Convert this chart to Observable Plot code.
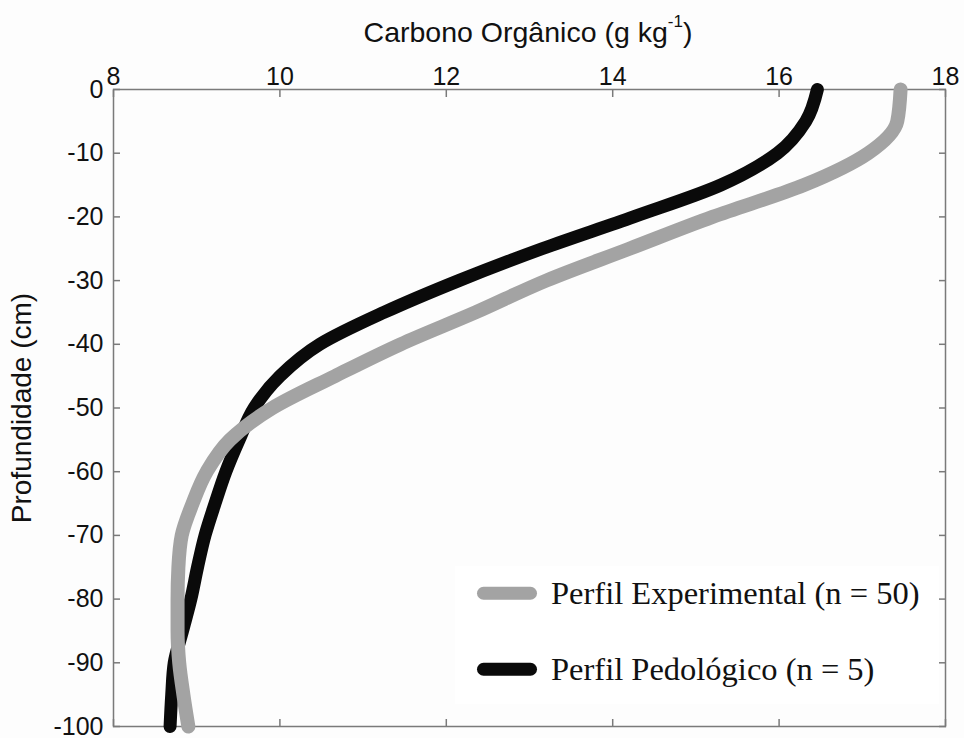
<!DOCTYPE html>
<html>
<head>
<meta charset="utf-8">
<script src="https://cdn.jsdelivr.net/npm/d3@7"></script>
<script src="https://cdn.jsdelivr.net/npm/@observablehq/plot@0.6"></script>
<style>
  body { margin: 0; background: #fff; }
  #wrap { position: relative; width: 964px; height: 738px; font-family: "Liberation Sans", Arial, sans-serif; color: #111; }
  #xlabel { position: absolute; left: 528px; top: 17px; transform: translateX(-50%); font-size: 28.5px; line-height: 1; white-space: nowrap; }
  #xlabel sup { font-size: 17px; position: relative; top: -4px; }
  #legend { position: absolute; left: 455px; top: 566px; width: 484px; height: 138px; background: #fff; font-family: "Liberation Serif", "Times New Roman", serif; font-size: 32.5px; color: #111; }
  .item { position: absolute; left: 22px; display: flex; align-items: center; white-space: nowrap; }
  .sw { width: 60px; height: 13px; border-radius: 6.5px; margin-right: 14px; }
</style>
</head>
<body>
<div id="wrap">
  <div id="chart"></div>
  <div id="xlabel">Carbono Orgânico (g kg<sup>-1</sup>)</div>
  <div id="legend"></div>
</div>
<script>
// Depth (cm) of each profile sample
const depth = [0, -5, -10, -15, -20, -25, -30, -35, -40, -45, -50, -55, -60, -65, -70, -75, -80, -85, -90, -95, -100];
// Organic carbon, experimental profile (n = 50), g/kg
const experimental = [17.46, 17.42, 17.07, 16.3, 15.2, 14.2, 13.2, 12.35, 11.45, 10.66, 9.91, 9.4, 9.12, 8.95, 8.82, 8.78, 8.77, 8.77, 8.79, 8.84, 8.9];
// Organic carbon, pedological profile (n = 5), g/kg
const pedologico = [16.46, 16.32, 15.98, 15.3, 14.25, 13.15, 12.15, 11.25, 10.48, 10.0, 9.69, 9.51, 9.35, 9.22, 9.1, 9.01, 8.93, 8.83, 8.73, 8.7, 8.68];

const xTicks = [8, 10, 12, 14, 16, 18];
const yTicks = [0, -10, -20, -30, -40, -50, -60, -70, -80, -90, -100];

const seriesNames = ["Perfil Experimental (n = 50)", "Perfil Pedológico (n = 5)"];
const seriesColors = ["#a3a3a3", "#0a0a0a"];

const expRows = depth.map((d, i) => ({depth: d, c: experimental[i]}));
const pedRows = depth.map((d, i) => ({depth: d, c: pedologico[i]}));

const axisColor = "#7a7a7a";
const plain = d => String(d); // hyphen-minus, as printed

const chart = Plot.plot({
  width: 964,
  height: 738,
  marginTop: 89,
  marginBottom: 12,
  marginLeft: 113,
  marginRight: 19,
  style: {fontFamily: "Liberation Sans, Arial, sans-serif", fontSize: "25px", color: "#111", background: "#fdfdfd", overflow: "visible"},
  x: {type: "linear", domain: [8, 18]},
  y: {type: "linear", domain: [-100, 0]},
  marks: [
    Plot.frame({stroke: axisColor, strokeWidth: 1.5}),
    // labelled axes: top and left
    Plot.axisX(xTicks, {anchor: "top", tickSize: 0, tickPadding: 5, tickFormat: plain, label: null, fontSize: 25}),
    Plot.axisY(yTicks, {anchor: "left", tickSize: 0, tickPadding: 10, tickFormat: plain, label: null, fontSize: 25}),
    // inward tick marks on all four sides
    Plot.axisX(xTicks, {anchor: "top", tickSize: -7, stroke: axisColor, strokeWidth: 1.5, tickFormat: () => "", label: null}),
    Plot.axisX(xTicks, {anchor: "bottom", tickSize: -7, stroke: axisColor, strokeWidth: 1.5, tickFormat: () => "", label: null}),
    Plot.axisY(yTicks, {anchor: "left", tickSize: -7, stroke: axisColor, strokeWidth: 1.5, tickFormat: () => "", label: null}),
    Plot.axisY(yTicks, {anchor: "right", tickSize: -7, stroke: axisColor, strokeWidth: 1.5, tickFormat: () => "", label: null}),
    Plot.text(["Profundidade (cm)"], {frameAnchor: "left", textAnchor: "middle", rotate: -90, dx: -91, fontSize: 28}),
    Plot.line(pedRows, {x: "c", y: "depth", stroke: seriesColors[1], strokeWidth: 13, strokeLinecap: "round", strokeLinejoin: "round", curve: "monotone-y"}),
    Plot.line(expRows, {x: "c", y: "depth", stroke: seriesColors[0], strokeWidth: 14, strokeLinecap: "round", strokeLinejoin: "round", curve: "monotone-y"})
  ]
});
document.getElementById("chart").appendChild(chart);

// legend box
const legend = document.getElementById("legend");
const itemTops = [20, 96];
seriesNames.forEach((name, i) => {
  const item = document.createElement("div");
  item.className = "item";
  item.style.top = (itemTops[i] - 2) + "px";
  item.style.transform = "translateY(-25%)";
  const sw = document.createElement("span");
  sw.className = "sw";
  sw.style.background = seriesColors[i];
  const label = document.createElement("span");
  label.textContent = name;
  item.appendChild(sw);
  item.appendChild(label);
  legend.appendChild(item);
});
</script>
</body>
</html>
